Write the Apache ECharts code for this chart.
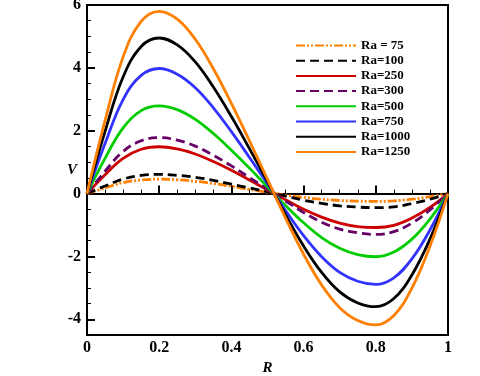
<!DOCTYPE html>
<html>
<head>
<meta charset="utf-8">
<script src="https://cdn.jsdelivr.net/npm/echarts@6/dist/echarts.min.js"></script>
<style>
  html, body { margin: 0; padding: 0; background: #fff; }
  #chart { width: 480px; height: 376px; }
</style>
</head>
<body>
<div id="chart"></div>
<script>
// R positions of the sampled points
const rValues = [0, 0.05, 0.1, 0.15, 0.2, 0.25, 0.3, 0.35, 0.4, 0.45, 0.5, 0.55, 0.6, 0.65, 0.7, 0.75, 0.8, 0.85, 0.9, 0.95, 1]

// V, one array per Ra
const ra75   = [0, 0.18, 0.35, 0.43, 0.46, 0.44, 0.39, 0.32, 0.23, 0.13, 0.04, -0.05, -0.12, -0.18, -0.22, -0.24, -0.25, -0.23, -0.18, -0.10, 0]
const ra100  = [0, 0.24, 0.46, 0.58, 0.61, 0.58, 0.52, 0.42, 0.30, 0.18, 0.05, -0.08, -0.21, -0.31, -0.39, -0.43, -0.45, -0.42, -0.32, -0.18, 0]
const ra250  = [0, 0.60, 1.12, 1.41, 1.49, 1.42, 1.26, 1.02, 0.74, 0.43, 0.11, -0.20, -0.50, -0.75, -0.94, -1.05, -1.08, -1.01, -0.78, -0.44, 0]
const ra300  = [0, 0.71, 1.34, 1.68, 1.78, 1.70, 1.51, 1.22, 0.88, 0.51, 0.14, -0.24, -0.60, -0.91, -1.13, -1.25, -1.30, -1.21, -0.94, -0.52, 0]
const ra500  = [0, 1.12, 2.09, 2.64, 2.79, 2.67, 2.36, 1.91, 1.38, 0.81, 0.21, -0.38, -0.93, -1.40, -1.74, -1.94, -2.01, -1.86, -1.45, -0.81, 0]
const ra750  = [0, 1.59, 2.99, 3.76, 3.98, 3.80, 3.37, 2.73, 1.97, 1.15, 0.31, -0.54, -1.34, -2.01, -2.51, -2.79, -2.89, -2.68, -2.08, -1.16, 0]
const ra1000 = [0, 1.98, 3.71, 4.68, 4.95, 4.73, 4.19, 3.39, 2.45, 1.43, 0.38, -0.67, -1.67, -2.51, -3.13, -3.48, -3.60, -3.34, -2.59, -1.45, 0]
const ra1250 = [0, 2.32, 4.35, 5.48, 5.80, 5.55, 4.91, 3.97, 2.87, 1.68, 0.45, -0.78, -1.93, -2.91, -3.63, -4.04, -4.18, -3.88, -3.01, -1.68, 0]

const legendNames = ['Ra = 75', 'Ra=100', 'Ra=250', 'Ra=300', 'Ra=500', 'Ra=750', 'Ra=1000', 'Ra=1250']

// y axis ticks
const yMajorTicks = [-4, -2, 0, 2, 4, 6]
const yMinorTicks = [-4.5, -3.5, -3, -2.5, -1.5, -1, -0.5, 0.5, 1, 1.5, 2.5, 3, 3.5, 4.5, 5, 5.5]

const font = 'Liberation Serif'

function pairs(vals) {
  return rValues.map((r, i) => [r, vals[i]])
}

function line(name, vals, color, type) {
  return {
    name: name,
    type: 'line',
    data: pairs(vals),
    smooth: 0.4,
    symbol: 'none',
    yAxisIndex: 0,
    lineStyle: { color: color, width: 2.8, type: type || 'solid' },
    itemStyle: { color: color }
  }
}

const chart = echarts.init(document.getElementById('chart'))

chart.setOption({
  animation: false,
  backgroundColor: '#fff',
  grid: {
    left: 87, right: 32, top: 5, bottom: 41,
    outerBoundsMode: 'none',
    containLabel: false,
    show: true, borderColor: '#000', borderWidth: 2, backgroundColor: 'transparent'
  },
  legend: {
    orient: 'vertical',
    left: 290,
    top: 34,
    itemWidth: 60,
    itemHeight: 12,
    itemGap: 2.2,
    data: legendNames,
    itemStyle: { opacity: 0 },
    textStyle: { fontFamily: font, fontWeight: 'bold', fontSize: 13, color: '#000' }
  },
  xAxis: {
    type: 'value',
    min: 0, max: 1, interval: 0.2,
    name: 'R',
    nameLocation: 'middle',
    nameGap: 25,
    nameTextStyle: { fontFamily: font, fontWeight: 'bold', fontStyle: 'italic', fontSize: 15, color: '#000' },
    axisLine: { lineStyle: { color: '#000', width: 2 } },
    axisTick: { inside: true, length: 8, lineStyle: { color: '#000', width: 2 } },
    minorTick: { show: true, splitNumber: 4, length: 4, lineStyle: { color: '#000', width: 1 } },
    splitLine: { show: false },
    axisLabel: { margin: 5, fontFamily: font, fontWeight: 'bold', fontSize: 16, color: '#000' }
  },
  yAxis: [
    {
      type: 'value',
      min: -4.5, max: 6, interval: 0.5,
      name: 'V',
      nameLocation: 'middle',
      nameGap: 10,
      nameRotate: 0,
      nameTextStyle: { fontFamily: font, fontWeight: 'bold', fontStyle: 'italic', fontSize: 15, color: '#000', padding: [0, 0, 26, 0] },
      axisLine: { lineStyle: { color: '#000', width: 2 } },
      axisTick: { inside: true, length: 4, customValues: yMinorTicks, lineStyle: { color: '#000', width: 1 } },
      splitLine: { show: false },
      axisLabel: { show: false }
    },
    {
      type: 'value',
      min: -4.5, max: 6, interval: 0.5,
      position: 'left',
      axisLine: { show: false },
      axisTick: { inside: true, length: 8, customValues: yMajorTicks, lineStyle: { color: '#000', width: 2 } },
      splitLine: { show: false },
      axisLabel: { customValues: yMajorTicks, margin: 6, fontFamily: font, fontWeight: 'bold', fontSize: 16, color: '#000' }
    }
  ],
  series: [
    line('Ra = 75', ra75, '#ff8000', [9, 2, 2, 2, 2, 2]),
    line('Ra=100', ra100, '#000000', [9, 5]),
    line('Ra=250', ra250, '#cc0000'),
    line('Ra=300', ra300, '#660066', [9, 5]),
    line('Ra=500', ra500, '#00cc00'),
    line('Ra=750', ra750, '#3333ff'),
    line('Ra=1000', ra1000, '#000000'),
    line('Ra=1250', ra1250, '#ff8000')
  ]
})
</script>
</body>
</html>
